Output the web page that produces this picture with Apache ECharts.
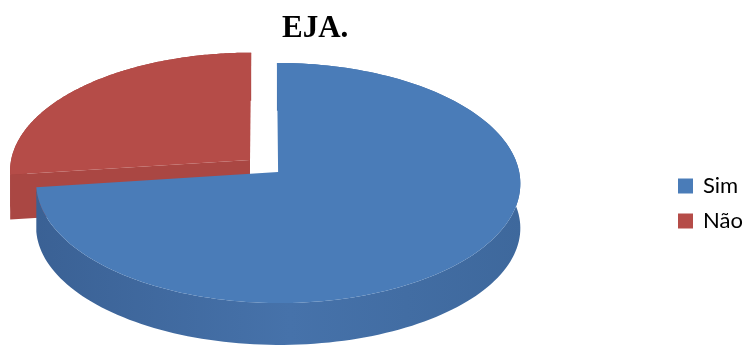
<!DOCTYPE html>
<html>
<head>
<meta charset="utf-8">
<script src="https://cdn.jsdelivr.net/npm/echarts@6/dist/echarts.min.js"></script>
<style>html,body{margin:0;padding:0;background:#fff;}#c{width:746px;height:347px;}</style>
</head>
<body>
<div id="c"></div>
<script>
const title = 'EJA.';
const categories = ['Sim', 'Não'];
const values = [73, 27];
const topColors = ['#4A7CB8', '#B54C48'];
const wallColors = [['#395F92', '#4672AA', '#3E689C'], ['#9C3E3A', '#A84541', '#9C3E3A']];
const cutColors = ['#3F6A9F', '#AA4743'];

// projection of the tilted pie (perspective-ish)
const CX = 264, CY = 166, RA = 240, RB = 118, K = 0.09, EXPL = 0.078;
function proj(u, v, drop) {
  const d = 1 + K * v;
  return [CX + RA * u / d, CY - RB * v / d + (drop || 0)];
}
function wallH(v) { return 45 + 3 * v; }

const total = values.reduce((a, b) => a + b, 0);

function makeRender(idx) {
  return function (params, api) {
    const val = api.value(0);
    let before = 0;
    for (let j = 0; j < idx; j++) before += values[j];
    const a0 = before / total * Math.PI * 2;
    const a1 = a0 + val / total * Math.PI * 2;
    const b = (a0 + a1) / 2;
    const eu = EXPL * Math.sin(b), ev = EXPL * Math.cos(b);
    const N = 160;
    const topArc = [], botArc = [];
    for (let s = 0; s <= N; s++) {
      const t = a0 + (a1 - a0) * s / N;
      const u = Math.sin(t) + eu, v = Math.cos(t) + ev;
      topArc.push(proj(u, v, 0));
      botArc.push(proj(u, v, wallH(v)));
    }
    const apexTop = proj(eu, ev, 0);
    const apexBot = proj(eu, ev, wallH(ev));
    const children = [];
    // outer wall
    children.push({
      type: 'polygon',
      shape: { points: topArc.concat(botArc.slice().reverse()) },
      style: {
        fill: {
          type: 'linear', x: CX - RA * 1.08, y: 0, x2: CX + RA * 1.08, y2: 0, global: true,
          colorStops: [
            { offset: 0, color: wallColors[idx][0] },
            { offset: 0.55, color: wallColors[idx][1] },
            { offset: 1, color: wallColors[idx][2] }
          ]
        }
      }
    });
    // cut faces
    if (Math.sin(a0) < -0.01) {
      children.push({
        type: 'polygon',
        shape: { points: [apexTop, topArc[0], botArc[0], apexBot] },
        style: { fill: cutColors[idx] }
      });
    }
    if (Math.sin(a1) > 0.01) {
      children.push({
        type: 'polygon',
        shape: { points: [apexTop, topArc[N], botArc[N], apexBot] },
        style: { fill: cutColors[idx] }
      });
    }
    // top face
    children.push({
      type: 'polygon',
      shape: { points: [apexTop].concat(topArc) },
      style: { fill: topColors[idx] }
    });
    return { type: 'group', children: children };
  };
}

const series = categories.map((name, i) => ({
  type: 'custom',
  name: name,
  coordinateSystem: 'none',
  silent: true,
  z: 10 - i,
  itemStyle: { color: topColors[i] },
  data: [[values[i]]],
  renderItem: makeRender(i)
}));

const chart = echarts.init(document.getElementById('c'), null, { renderer: 'canvas' });
chart.setOption({
  animation: false,
  backgroundColor: '#fff',
  title: {
    text: title,
    left: 282,
    top: 13,
    padding: 0,
    textStyle: { fontFamily: 'Liberation Serif', fontWeight: 'bold', fontSize: 31, color: '#000' }
  },
  legend: {
    data: categories,
    orient: 'vertical',
    left: 678,
    top: 175,
    padding: 0,
    icon: 'rect',
    itemWidth: 15,
    itemHeight: 15,
    itemGap: 13,
    selectedMode: false,
    textStyle: { fontFamily: 'Lato', fontSize: 22, color: '#000', padding: [0, 0, 0, 5], lineHeight: 22 }
  },
  series: series
});
</script>
</body>
</html>
